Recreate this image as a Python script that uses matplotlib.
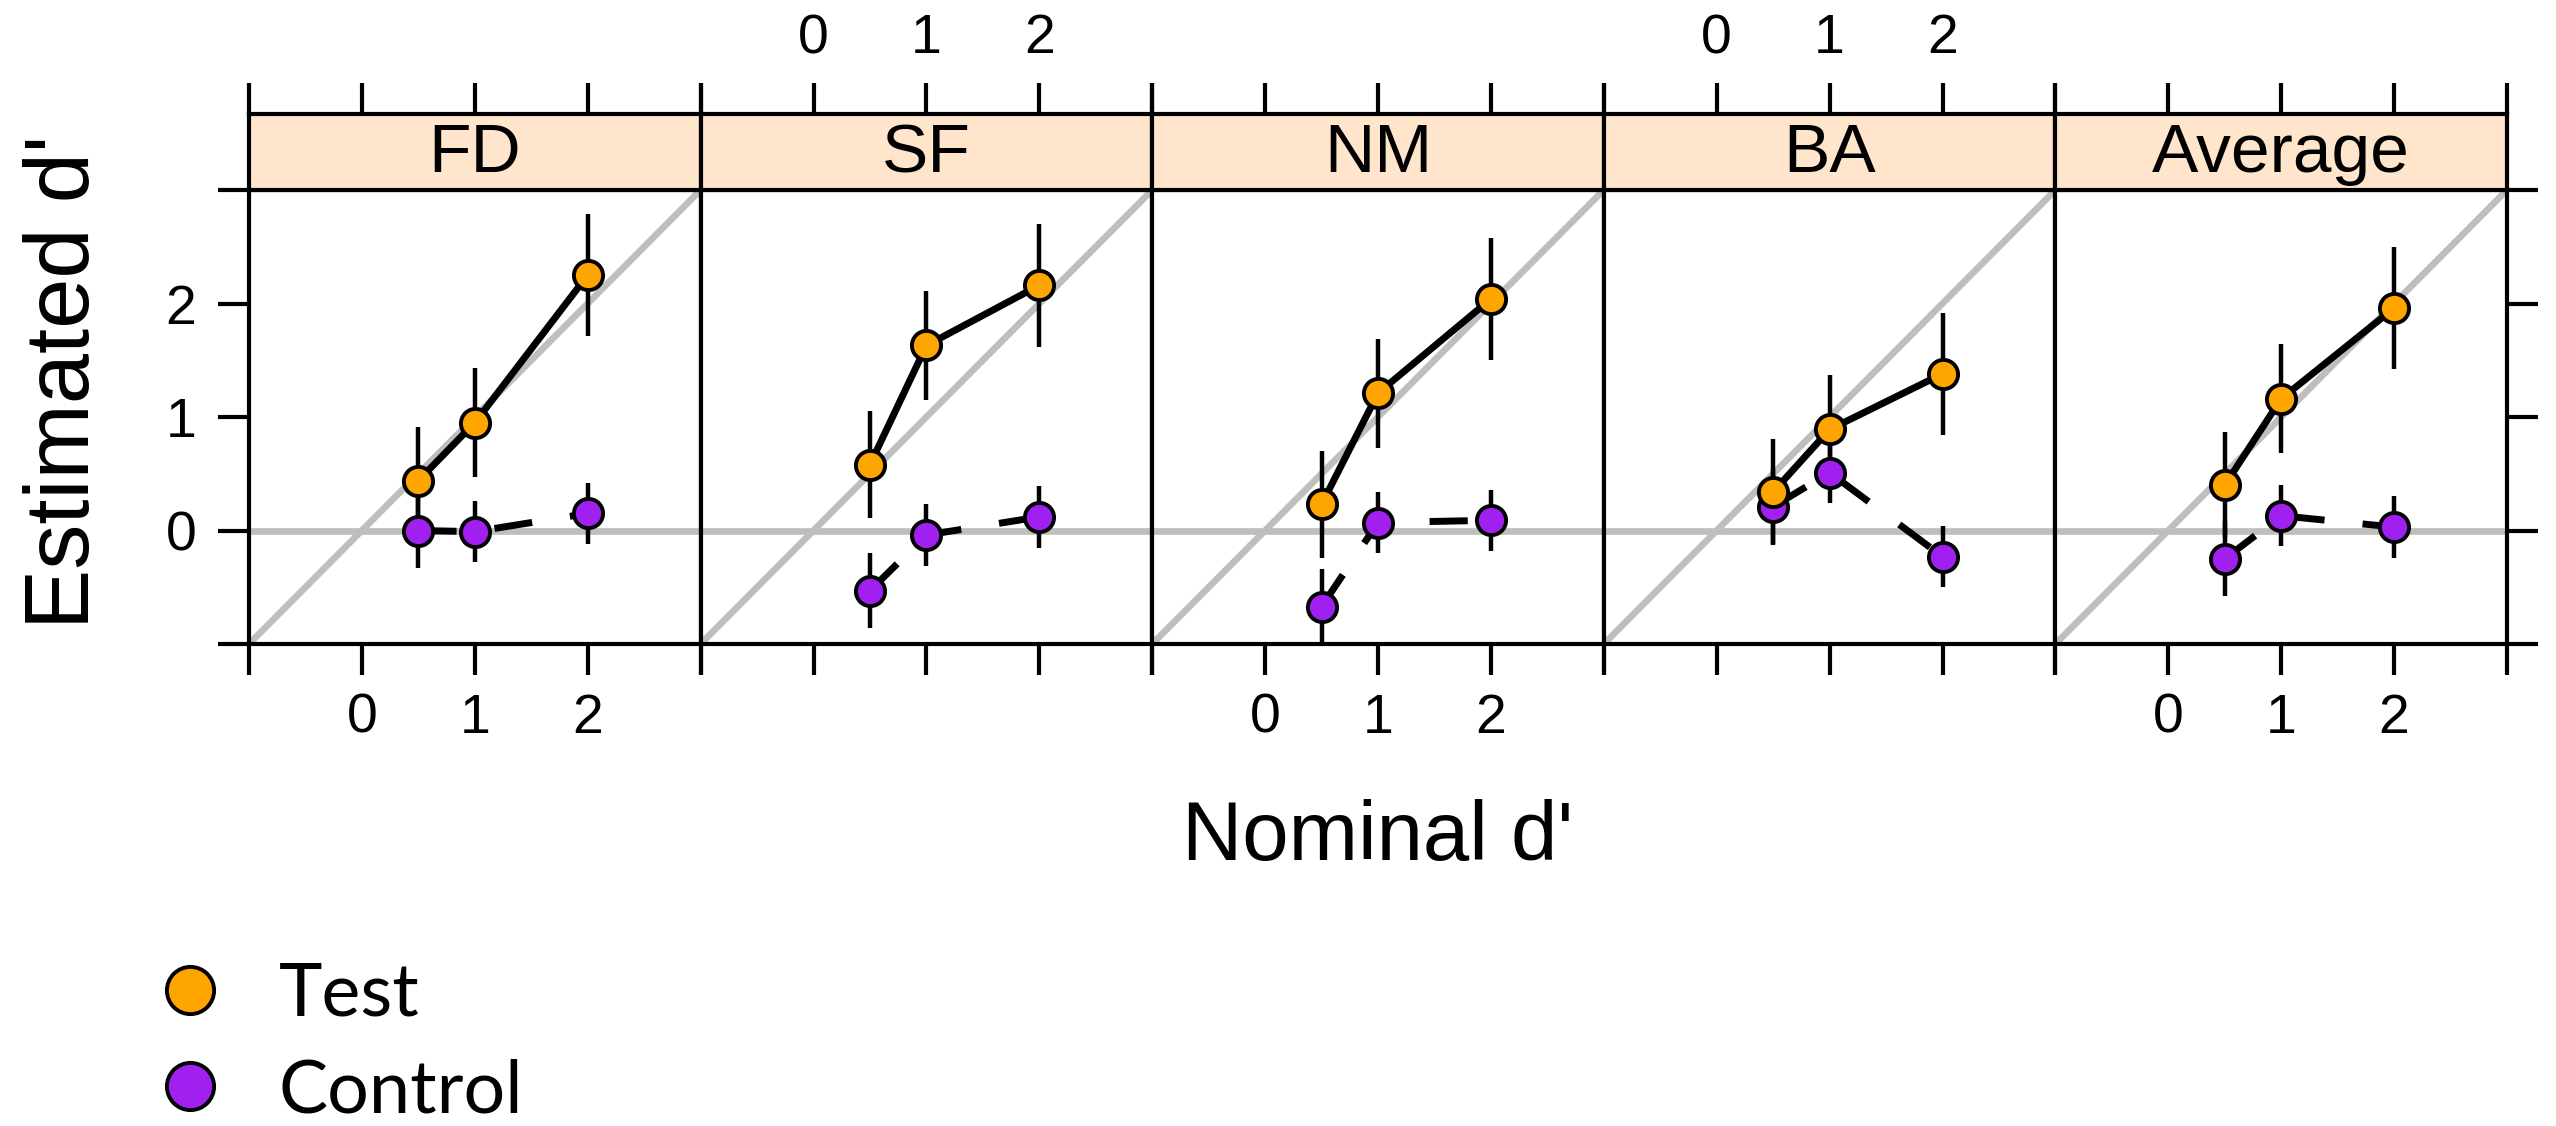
import matplotlib
matplotlib.use("Agg")
import matplotlib.pyplot as plt
from matplotlib.lines import Line2D

# === Data ===
panels = ["FD", "SF", "NM", "BA", "Average"]
nominal = [0.5, 1, 2]

test_mean = {
    "FD": [0.44, 0.95, 2.25],
    "SF": [0.58, 1.63, 2.16],
    "NM": [0.23, 1.21, 2.04],
    "BA": [0.34, 0.89, 1.38],
    "Average": [0.40, 1.16, 1.96],
}
control_mean = {
    "FD": [0.00, -0.01, 0.15],
    "SF": [-0.53, -0.04, 0.12],
    "NM": [-0.67, 0.07, 0.09],
    "BA": [0.21, 0.51, -0.23],
    "Average": [-0.25, 0.13, 0.03],
}
test_err = [0.47, 0.48, 0.54]
control_err = [0.33, 0.27, 0.27]

tick_vals = [-1, 0, 1, 2, 3]
tick_labels = ["", "0", "1", "2", ""]

# === Style ===
W, H, DPI = 2556, 1126, 100
orange = "#FFA500"
purple = "#A020F0"
grey = "#BEBEBE"
strip_col = "#FFE5CC"
frame_lw = 3.0
tick_len = 22
tick_fs = 40

plt.rcParams['font.family'] = ['Liberation Sans', 'DejaVu Sans']
plt.rcParams['xtick.labelsize'] = tick_fs
plt.rcParams['ytick.labelsize'] = tick_fs

fig = plt.figure(figsize=(W / DPI, H / DPI), dpi=DPI)

# panel geometry in pixels
left, pw = 249, 451.6
top, bottom, strip_top = 190, 644, 114


def fx(px):
    return px / W


def fy(py):
    return 1 - py / H


for i, name in enumerate(panels):
    x0 = left + i * pw
    ax = fig.add_axes([fx(x0), fy(bottom), pw / W, (bottom - top) / H])
    sax = fig.add_axes([fx(x0), fy(top), pw / W, (top - strip_top) / H])

    # reference lines
    ax.plot([-1, 3], [-1, 3], color=grey, lw=4.8, zorder=1)
    ax.axhline(0, color=grey, lw=4.8, zorder=1)

    # error bars + connecting lines
    ax.errorbar(nominal, control_mean[name], yerr=control_err, fmt="none",
                ecolor="black", elinewidth=3.2, capsize=0, zorder=2)
    ax.errorbar(nominal, test_mean[name], yerr=test_err, fmt="none",
                ecolor="black", elinewidth=3.2, capsize=0, zorder=2)
    ax.plot(nominal, control_mean[name], color="black", lw=5,
            dashes=(5.5, 5.5), zorder=2)
    ax.plot(nominal, test_mean[name], color="black", lw=5, zorder=2)

    # points
    ax.plot(nominal, control_mean[name], ls="none", marker="o", ms=21,
            mfc=purple, mec="black", mew=2.8, zorder=3)
    ax.plot(nominal, test_mean[name], ls="none", marker="o", ms=21,
            mfc=orange, mec="black", mew=2.8, zorder=4)

    ax.set_xlim(-1, 3)
    ax.set_ylim(-1, 3)
    for s in ax.spines.values():
        s.set_linewidth(frame_lw)

    ax.set_xticks(tick_vals)
    ax.set_yticks(tick_vals)
    ax.set_xticklabels(tick_labels)
    ax.set_yticklabels(tick_labels)
    ax.tick_params(axis="both", direction="out", length=tick_len,
                   width=frame_lw, labelsize=tick_fs)
    ax.tick_params(axis="x", top=False, bottom=True, pad=13,
                   labelbottom=(i % 2 == 0))
    ax.tick_params(axis="y", left=(i == 0), labelleft=(i == 0), pad=16,
                   right=(i == len(panels) - 1), labelright=False)

    # strip
    sax.set_facecolor(strip_col)
    sax.set_xlim(-1, 3)
    sax.set_ylim(0, 1)
    sax.set_yticks([])
    sax.set_xticks(tick_vals)
    sax.set_xticklabels(tick_labels)
    sax.tick_params(axis="x", direction="out", length=tick_len,
                    width=frame_lw, pad=13, labelsize=tick_fs,
                    top=True, bottom=False, labelbottom=False,
                    labeltop=(i % 2 == 1))
    for s in sax.spines.values():
        s.set_linewidth(frame_lw)
    sax.text(0.5, 0.47, name, transform=sax.transAxes, ha="center",
             va="center", fontsize=50)

# axis labels
fig.text(fx(66), fy(382), "Estimated d'", rotation=90, ha="center",
         va="center", fontsize=65)
fig.text(fx(1378), fy(838), "Nominal d'", ha="center", va="center",
         fontsize=60)

# legend
handles = [
    Line2D([], [], ls="none", marker="o", ms=34, mfc=orange, mec="black", mew=2.8),
    Line2D([], [], ls="none", marker="o", ms=34, mfc=purple, mec="black", mew=2.8),
]
fig.legend(handles, ["Test", "Control"], loc="upper left",
           bbox_to_anchor=(fx(113), fy(925)), frameon=False,
           prop={"family": "Lato", "size": 53}, handletextpad=0.65,
           labelspacing=0.4, borderpad=0, handlelength=1.1)

fig.savefig("out.png", dpi=DPI)
